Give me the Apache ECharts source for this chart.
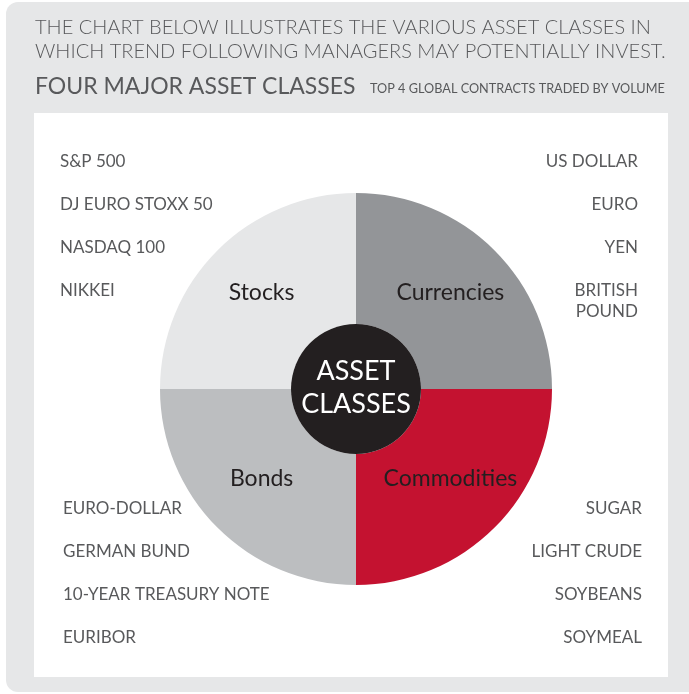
<!DOCTYPE html>
<html>
<head>
<meta charset="utf-8">
<script src="https://cdn.jsdelivr.net/npm/echarts@6/dist/echarts.min.js"></script>
<style>
  html, body { margin: 0; padding: 0; background: #fff; }
  #chart { width: 689px; height: 694px; }
</style>
</head>
<body>
<div id="chart"></div>
<script>
// 四大类资产
const classes = ['Currencies', 'Commodities', 'Bonds', 'Stocks']
const shares = [1, 1, 1, 1]
const colors = ['#939598', '#c41230', '#bcbec0', '#e6e7e8']
// 标签微调
const labelOffsets = [[0, -2], [0, -5], [0, -5], [0, -2]]

// 每类前4个合约
const stocks = ['S&P 500', 'DJ EURO STOXX 50', 'NASDAQ 100', 'NIKKEI']
const currencies = ['US DOLLAR', 'EURO', 'YEN', 'BRITISH\nPOUND']
const bonds = ['EURO-DOLLAR', 'GERMAN BUND', '10-YEAR TREASURY NOTE', 'EURIBOR']
const commodities = ['SUGAR', 'LIGHT CRUDE', 'SOYBEANS', 'SOYMEAL']

const FONT = 'Lato'
const textColor = '#58595b'

// 列表文字
const listText = (items, x, y0, align) => items.map((t, i) => ({
  type: 'text',
  left: align === 'left' ? x : null,
  right: align === 'right' ? x : null,
  top: y0 + i * 43,
  style: {
    text: t,
    fill: textColor,
    font: '17px ' + FONT,
    textAlign: align,
    lineHeight: 21
  }
}))

const chartDom = document.querySelector('#chart')
const myChart = echarts.init(chartDom)
const option = {
  backgroundColor: '#fff',
  animation: false,
  graphic: [
    // 灰色底
    {
      type: 'rect',
      shape: { x: 6, y: 2, width: 700, height: 690, r: 12 },
      style: { fill: '#e6e7e8' },
      z: -10
    },
    // 白色面板
    {
      type: 'rect',
      shape: { x: 34, y: 113, width: 634, height: 564 },
      style: { fill: '#fff' },
      z: -9
    },
    {
      type: 'text',
      left: 35,
      top: 16,
      style: {
        text: 'THE CHART BELOW ILLUSTRATES THE VARIOUS ASSET CLASSES IN\nWHICH TREND FOLLOWING MANAGERS MAY POTENTIALLY INVEST.',
        fill: textColor,
        font: '300 20px ' + FONT,
        lineHeight: 24
      }
    },
    {
      type: 'text',
      left: 35,
      top: 75,
      style: {
        text: 'FOUR MAJOR ASSET CLASSES',
        fill: textColor,
        font: '23px ' + FONT
      }
    },
    {
      type: 'text',
      left: 370,
      top: 82,
      style: {
        text: 'TOP 4 GLOBAL CONTRACTS TRADED BY VOLUME',
        fill: textColor,
        font: '12.7px ' + FONT
      }
    },
    ...listText(stocks, 60, 151, 'left'),
    ...listText(currencies, 51, 151, 'right'),
    ...listText(bonds, 63, 498, 'left'),
    ...listText(commodities, 47, 498, 'right')
  ],
  series: [
    {
      type: 'pie',
      center: [356, 389],
      radius: [65, 196],
      startAngle: 90,
      clockwise: true,
      silent: true,
      label: {
        show: true,
        position: 'inside',
        color: '#231f20',
        fontSize: 23,
        fontFamily: FONT,
        formatter: '{b}'
      },
      labelLine: { show: false },
      data: classes.map((name, i) => {
        return {
          name: name,
          value: shares[i],
          itemStyle: { color: colors[i] },
          label: { offset: labelOffsets[i] }
        }
      })
    },
    {
      type: 'pie',
      center: [356, 389],
      radius: [0, 65],
      silent: true,
      label: {
        show: true,
        position: 'center',
        color: '#fff',
        fontSize: 27,
        lineHeight: 33,
        offset: [0, -1.5],
        fontFamily: FONT,
        formatter: 'ASSET\nCLASSES'
      },
      labelLine: { show: false },
      data: [{ name: 'ASSET CLASSES', value: 1, itemStyle: { color: '#231f20' } }]
    }
  ]
}
myChart.setOption(option)
</script>
</body>
</html>
